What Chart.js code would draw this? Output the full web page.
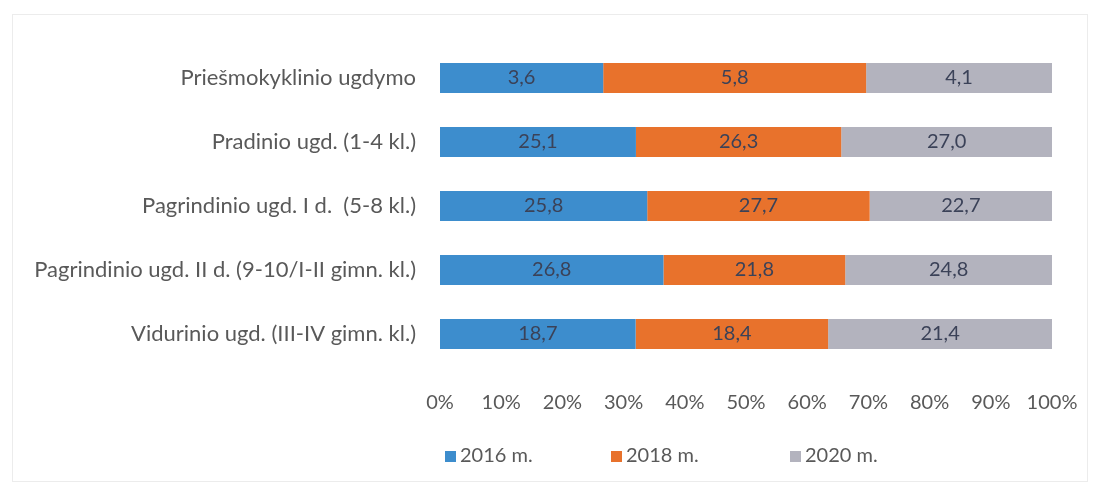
<!DOCTYPE html>
<html lang="lt">
<head>
    <meta charset="UTF-8">
    <title>Mokinių pasiskirstymas</title>
    <script src="https://cdn.jsdelivr.net/npm/chart.js@4.4.0/dist/chart.umd.min.js"></script>
    <style>
        body { margin: 0; background: #fff; }
        .wrap { position: relative; width: 1098px; height: 488px; }
        .frame { position: absolute; left: 12px; top: 14px; right: 10px; bottom: 6px; border: 1px solid #ececec; }
        .legend { position: absolute; top: 441px; left: 0; font: 20px Lato, sans-serif; line-height: 26px; color: #595959; }
        .legend span { position: absolute; white-space: nowrap; }
        .legend i { display: inline-block; width: 11px; height: 11px; margin-right: 4px; }
    </style>
</head>
<body>
<div class="wrap">
    <div class="frame"></div>
    <canvas id="myChart" width="1098" height="488"></canvas>
    <div class="legend" id="legend"></div>
</div>
<script>
    const categories = [
        "Priešmokyklinio ugdymo",
        "Pradinio ugd. (1-4 kl.)",
        "Pagrindinio ugd. I d.  (5-8 kl.)",
        "Pagrindinio ugd. II d. (9-10/I-II gimn. kl.)",
        "Vidurinio ugd. (III-IV gimn. kl.)"
    ];
    const seriesNames = ["2016 m.", "2018 m.", "2020 m."];
    const values2016 = [3.6, 25.1, 25.8, 26.8, 18.7];
    const values2018 = [5.8, 26.3, 27.7, 21.8, 18.4];
    const values2020 = [4.1, 27.0, 22.7, 24.8, 21.4];
    const colors = ["#3d8dcd", "#e8722c", "#b3b3be"];

    const raw = [values2016, values2018, values2020];
    const totals = categories.map((c, i) => raw.reduce((s, arr) => s + arr[i], 0));

    // 100% stacked: each row normalised to its total
    const datasets = raw.map((arr, k) => ({
        label: seriesNames[k],
        data: arr.map((v, i) => v / totals[i] * 100),
        rawValues: arr,
        backgroundColor: colors[k],
        borderWidth: 0,
        categoryPercentage: 1,
        barPercentage: 0.47
    }));

    // value labels in the middle of each segment
    const segmentLabels = {
        id: "segmentLabels",
        afterDatasetsDraw(chart) {
            const ctx = chart.ctx;
            ctx.save();
            ctx.font = "20px Lato, sans-serif";
            ctx.fillStyle = "#3b4258";
            ctx.textAlign = "center";
            ctx.textBaseline = "middle";
            chart.data.datasets.forEach((ds, k) => {
                chart.getDatasetMeta(k).data.forEach((bar, i) => {
                    const x = (bar.x + bar.base) / 2;
                    ctx.fillText(ds.rawValues[i].toFixed(1).replace(".", ","), x, bar.y);
                });
            });
            ctx.restore();
        }
    };

    new Chart("myChart", {
        type: "bar",
        data: { labels: categories, datasets: datasets },
        plugins: [segmentLabels],
        options: {
            indexAxis: "y",
            responsive: false,
            animation: false,
            layout: { padding: { top: 46, right: 46, left: 0, bottom: 0 } },
            plugins: { legend: { display: false }, tooltip: { enabled: false } },
            scales: {
                x: {
                    stacked: true,
                    min: 0,
                    max: 100,
                    grid: { display: false, drawTicks: false },
                    border: { display: false },
                    ticks: {
                        stepSize: 10,
                        padding: 25,
                        color: "#595959",
                        font: { family: "Lato", size: 20 },
                        callback: v => v + "%"
                    },
                    afterFit: s => { s.height = 122; s.paddingLeft = 0; s.paddingRight = 0; }
                },
                y: {
                    stacked: true,
                    grid: { display: false, drawTicks: false },
                    border: { display: false },
                    ticks: {
                        padding: 24,
                        color: "#595959",
                        font: { family: "Lato", size: 22 }
                    },
                    afterFit: s => { s.width = 440; }
                }
            }
        }
    });

    // legend laid out like the original
    const legendX = [445, 611, 790];
    const legend = document.getElementById("legend");
    seriesNames.forEach((name, k) => {
        const item = document.createElement("span");
        item.style.left = legendX[k] + "px";
        item.innerHTML = '<i style="background:' + colors[k] + '"></i>' + name;
        legend.appendChild(item);
    });
</script>
</body>
</html>
